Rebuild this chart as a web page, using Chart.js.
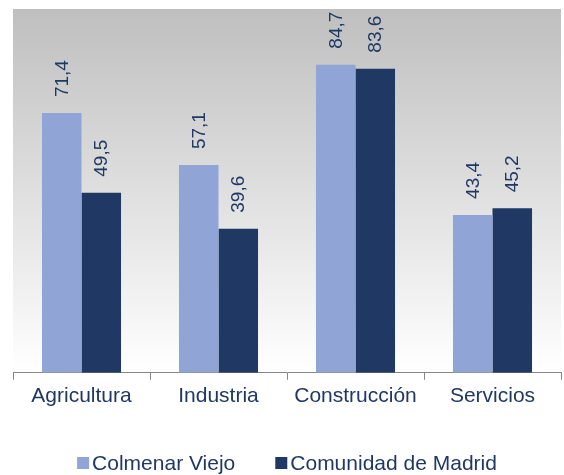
<!DOCTYPE html>
<html>
<head>
<meta charset="utf-8">
<script src="https://cdn.jsdelivr.net/npm/chart.js@4/dist/chart.umd.min.js"></script>
<style>
  html, body { margin: 0; padding: 0; background: #fff; }
  #wrap { width: 564px; height: 475px; }
</style>
</head>
<body>
<div id="wrap"><canvas id="chart"></canvas></div>
<script>
const categories = ["Agricultura", "Industria", "Construcción", "Servicios"];
const colmenar = [71.4, 57.1, 84.7, 43.4];
const madrid = [49.5, 39.6, 83.6, 45.2];

const textColor = "#1f3864";
const fontFamily = "'Liberation Sans', Arial, sans-serif";

// gray-to-white gradient behind the bars
const bgPlugin = {
  id: "bgGradient",
  beforeDraw(chart) {
    const { ctx, chartArea: a } = chart;
    const g = ctx.createLinearGradient(0, a.top, 0, a.bottom);
    g.addColorStop(0, "#bfbfbf");
    g.addColorStop(1, "#ffffff");
    ctx.save();
    ctx.fillStyle = g;
    ctx.fillRect(a.left, a.top, a.right - a.left, a.bottom - a.top);
    ctx.restore();
  }
};

// vertical value labels above each bar
const labelPlugin = {
  id: "valueLabels",
  afterDatasetsDraw(chart) {
    const ctx = chart.ctx;
    ctx.save();
    ctx.font = "19px " + fontFamily;
    ctx.fillStyle = textColor;
    ctx.textAlign = "left";
    ctx.textBaseline = "middle";
    chart.data.datasets.forEach((ds, i) => {
      chart.getDatasetMeta(i).data.forEach((bar, j) => {
        const txt = ds.data[j].toFixed(1).replace(".", ",");
        ctx.save();
        ctx.translate(bar.x + 1, bar.y - 16);
        ctx.rotate(-Math.PI / 2);
        ctx.fillText(txt, 0, 0);
        ctx.restore();
      });
    });
    ctx.restore();
  }
};

// legend with small squares close to the text
const legendPlugin = {
  id: "smallLegend",
  afterDraw(chart) {
    const ctx = chart.ctx;
    const a = chart.chartArea;
    const box = 12, gap = 3, itemGap = 40;
    ctx.save();
    ctx.font = "21px " + fontFamily;
    const items = chart.data.datasets.map(ds => ({
      text: ds.label, color: ds.backgroundColor, w: ctx.measureText(ds.label).width
    }));
    let total = items.reduce((s, it) => s + box + gap + it.w, 0) + itemGap * (items.length - 1);
    let x = (a.left + a.right) / 2 - total / 2;
    const y = 464;
    ctx.textBaseline = "middle";
    ctx.textAlign = "left";
    items.forEach(it => {
      ctx.fillStyle = it.color;
      ctx.fillRect(x, y - box / 2 - 1, box, box);
      ctx.fillStyle = textColor;
      ctx.fillText(it.text, x + box + gap, y);
      x += box + gap + it.w + itemGap;
    });
    ctx.restore();
  }
};

new Chart(document.getElementById("chart"), {
  type: "bar",
  data: {
    labels: categories,
    datasets: [
      { label: "Colmenar Viejo", data: colmenar, backgroundColor: "#90a5d5" },
      { label: "Comunidad de Madrid", data: madrid, backgroundColor: "#1f3864" }
    ]
  },
  options: {
    responsive: true,
    maintainAspectRatio: false,
    animation: false,
    layout: { padding: { left: 13, right: 3, top: 9, bottom: 62 } },
    datasets: { bar: { categoryPercentage: 0.577, barPercentage: 1 } },
    scales: {
      x: {
        grid: { offset: true, drawOnChartArea: false, tickLength: 7, color: "#868686" },
        border: { color: "#868686", width: 1 },
        ticks: { color: textColor, font: { family: fontFamily, size: 21 }, padding: 4 }
      },
      y: { display: false, min: 0, max: 100 }
    },
    plugins: {
      legend: { display: false },
      tooltip: { enabled: false }
    }
  },
  plugins: [bgPlugin, labelPlugin, legendPlugin]
});
</script>
</body>
</html>
